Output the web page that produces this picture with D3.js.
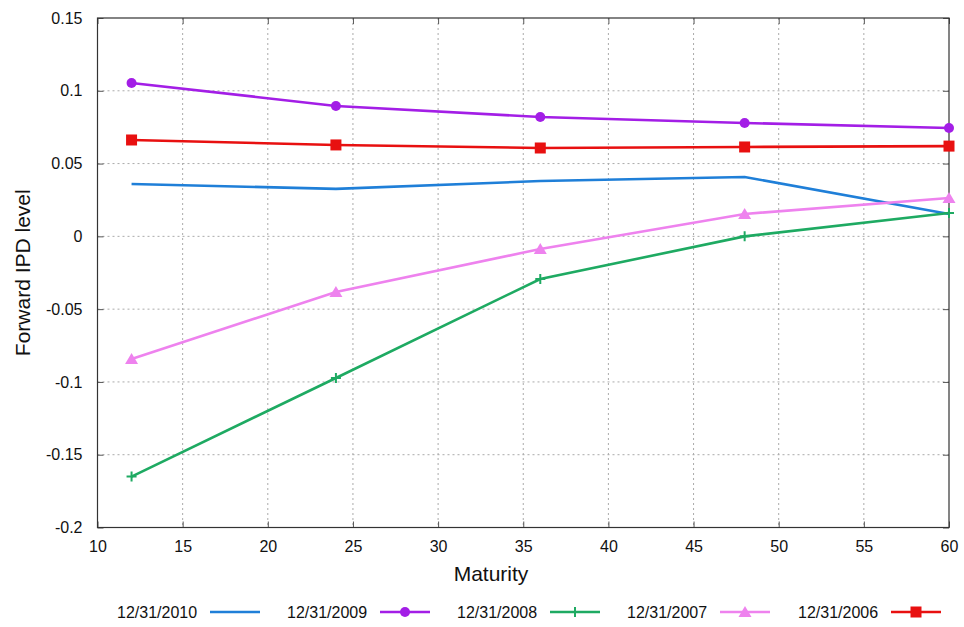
<!DOCTYPE html>
<html><head><meta charset="utf-8">
<script src="https://cdn.jsdelivr.net/npm/d3@7"></script>
<style>body{margin:0;background:#fff}svg{display:block}text{font-family:"Liberation Sans",Arial,sans-serif;fill:#111}</style>
</head><body><svg id="c" width="964" height="627"></svg>
<script>
const maturities = [12, 24, 36, 48, 60];
const s2010 = [0.036, 0.0326, 0.038, 0.0408, 0.0154];
const s2009 = [0.1054, 0.0896, 0.082, 0.0779, 0.0744];
const s2008 = [-0.165, -0.0973, -0.0293, 0.0, 0.016];
const s2007 = [-0.0842, -0.0382, -0.0087, 0.0154, 0.0264];
const s2006 = [0.0662, 0.0628, 0.0607, 0.0614, 0.062];
const seriesNames = ["12/31/2010", "12/31/2009", "12/31/2008", "12/31/2007", "12/31/2006"];
const xTicks = [10, 15, 20, 25, 30, 35, 40, 45, 50, 55, 60];
const yTicks = [-0.2, -0.15, -0.1, -0.05, 0, 0.05, 0.1, 0.15];

const series = [
  {name: seriesNames[0], values: s2010, color: "#1f7fd8", marker: "none"},
  {name: seriesNames[1], values: s2009, color: "#a31ee6", marker: "circle"},
  {name: seriesNames[2], values: s2008, color: "#1eaa62", marker: "plus"},
  {name: seriesNames[3], values: s2007, color: "#ee82ee", marker: "triangle"},
  {name: seriesNames[4], values: s2006, color: "#e81010", marker: "square"}
];

const svg = d3.select("#c");
const L = 97.5, R = 949, T = 18, B = 527.5;
const x = d3.scaleLinear().domain([10, 60]).range([L, R]);
const y = d3.scaleLinear().domain([-0.2, 0.15]).range([B, T]);

const g = svg.append("g");
g.selectAll(".gx").data(xTicks.slice(1, -1)).enter().append("line")
  .attr("x1", d => x(d)).attr("x2", d => x(d)).attr("y1", T).attr("y2", B)
  .attr("stroke", "#aaa").attr("stroke-width", 1).attr("stroke-dasharray", "2,3");
g.selectAll(".gy").data(yTicks.slice(1, -1)).enter().append("line")
  .attr("x1", L).attr("x2", R).attr("y1", d => y(d)).attr("y2", d => y(d))
  .attr("stroke", "#aaa").attr("stroke-width", 1).attr("stroke-dasharray", "2,3");

const fmtY = d => d === 0 ? "0" : String(+d.toFixed(2));
svg.append("g").attr("transform", `translate(0,${B})`)
  .call(d3.axisBottom(x).tickValues(xTicks).tickSize(-6).tickPadding(13).tickFormat(d3.format("d")))
  .call(a => a.select(".domain").remove())
  .call(a => a.selectAll("text").attr("font-size", 16).style("font-family", "Liberation Sans, Arial"))
  .call(a => a.selectAll("line").attr("stroke", "#555"));
svg.append("g").attr("transform", `translate(0,${T})`)
  .call(d3.axisTop(x).tickValues(xTicks).tickSize(-6).tickFormat(""))
  .call(a => a.select(".domain").remove())
  .call(a => a.selectAll("line").attr("stroke", "#555"));
svg.append("g").attr("transform", `translate(${L},0)`)
  .call(d3.axisLeft(y).tickValues(yTicks).tickSize(-6).tickPadding(15).tickFormat(fmtY))
  .call(a => a.select(".domain").remove())
  .call(a => a.selectAll("text").attr("font-size", 16).style("font-family", "Liberation Sans, Arial"))
  .call(a => a.selectAll("line").attr("stroke", "#555"));
svg.append("g").attr("transform", `translate(${R},0)`)
  .call(d3.axisRight(y).tickValues(yTicks).tickSize(-6).tickFormat(""))
  .call(a => a.select(".domain").remove())
  .call(a => a.selectAll("line").attr("stroke", "#555"));
svg.append("rect").attr("x", L).attr("y", T).attr("width", R - L).attr("height", B - T)
  .attr("fill", "none").attr("stroke", "#333").attr("stroke-width", 1.2);

svg.append("text").attr("x", 491).attr("y", 581).attr("text-anchor", "middle")
  .attr("font-size", 21).text("Maturity");
svg.append("text").attr("transform", `translate(30,${(T + B) / 2}) rotate(-90)`)
  .attr("text-anchor", "middle").attr("font-size", 21).text("Forward IPD level");

function drawMarker(sel, type, color) {
  if (type === "circle") sel.append("circle").attr("r", 5).attr("fill", color);
  else if (type === "square") sel.append("rect").attr("x", -5.5).attr("y", -5.5).attr("width", 11).attr("height", 11).attr("fill", color);
  else if (type === "triangle") sel.append("path").attr("d", "M0,-6L6.5,5L-6.5,5Z").attr("fill", color);
  else if (type === "plus") sel.append("path").attr("d", "M-5,0H5M0,-5V5").attr("stroke", color).attr("stroke-width", 2);
}

const line = d3.line().x((d, i) => x(maturities[i])).y(d => y(d));
const plot = svg.append("g");
series.forEach(s => {
  plot.append("path").datum(s.values).attr("d", line).attr("fill", "none")
    .attr("stroke", s.color).attr("stroke-width", 2.6);
  s.values.forEach((v, i) => {
    const m = plot.append("g").attr("transform", `translate(${x(maturities[i])},${y(v)})`);
    drawMarker(m, s.marker, s.color);
  });
});

const legX = [117, 287, 457, 627, 798];
series.forEach((s, i) => {
  const lg = svg.append("g").attr("transform", `translate(${legX[i]},612)`);
  lg.append("text").attr("x", 0).attr("y", 5.5).attr("font-size", 16).text(s.name);
  lg.append("line").attr("x1", 93).attr("x2", 143).attr("y1", 0).attr("y2", 0)
    .attr("stroke", s.color).attr("stroke-width", 2.6);
  const m = lg.append("g").attr("transform", "translate(118,0)");
  drawMarker(m, s.marker, s.color);
});
</script></body></html>
